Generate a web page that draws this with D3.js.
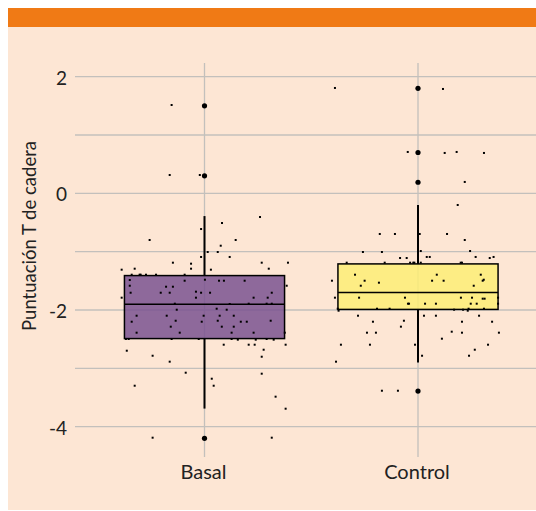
<!DOCTYPE html>
<html><head><meta charset="utf-8">
<script src="https://cdn.jsdelivr.net/npm/d3@7"></script>
<style>body{margin:0;background:#fff}svg{display:block}</style>
</head><body>
<script>
const categories = ["Basal", "Control"];
const yTicks = [-4, -2, 0, 2];
const yGrid = [-4, -3, -2, -1, 0, 1, 2];
// box stats: [lowerWhisker, q1, median, q3, upperWhisker]
const basalStats = [-3.69, -2.49, -1.90, -1.41, -0.39];
const controlStats = [-2.90, -1.99, -1.70, -1.21, -0.20];
const basalOutliers = [1.50, 0.30, -4.20];
const controlOutliers = [1.80, 0.70, 0.19, -3.39];
// jittered observations: [jitter (fraction of category step), value]
const basalPoints = [
[-0.154,1.514],[-0.163,0.314],[-0.022,0.314],[0.26,-0.406],[0.082,-0.509],[-0.016,-0.612],
[-0.257,-0.8],[0.146,-0.8],[0.076,-0.898],[0.015,-1.006],[0.062,-1.006],[-0.016,-1.091],[0.118,-1.091],
[-0.148,-1.189],[-0.063,-1.206],[0.268,-1.189],[0.391,-1.189],[-0.388,-1.309],[-0.327,-1.292],
[-0.063,-1.292],[0.03,-1.309],[0.301,-1.292],
[-0.341,-1.395],[-0.304,-1.395],[-0.299,-1.395],[-0.274,-1.395],[-0.227,-1.395],[-0.093,-1.395],
[-0.35,-1.486],[-0.093,-1.498],[0.002,-1.481],[0.068,-1.498],[0.091,-1.498],[0.188,-1.498],
[-0.35,-1.584],[-0.18,-1.601],[-0.148,-1.601],[0.385,-1.584],
[-0.346,-1.704],[-0.205,-1.704],[-0.163,-1.704],[-0.04,-1.686],[-0.016,-1.704],[0.026,-1.704],[0.315,-1.704],
[-0.388,-1.789],[-0.04,-1.789],[0.23,-1.789],[0.296,-1.789],
[-0.139,-1.892],[0.118,-1.897],[0.207,-1.892],[0.291,-1.892],[0.315,-1.892],
[-0.13,-1.995],[0.057,-1.978],[0.104,-1.995],
[-0.318,-2.098],[-0.177,-2.098],[-0.004,-2.098],[0.071,-2.098],[0.137,-2.098],
[-0.341,-2.201],[-0.135,-2.184],[-0.013,-2.201],[0.062,-2.184],[0.17,-2.201],[0.198,-2.201],[0.31,-2.184],
[-0.158,-2.286],[0.081,-2.286],[0.137,-2.286],
[-0.318,-2.389],[-0.116,-2.389],[0.127,-2.389],[0.23,-2.389],[0.376,-2.389],
[-0.368,-2.497],[-0.355,-2.497],[-0.154,-2.497],[-0.027,-2.497],[0.127,-2.497],[0.156,-2.509],
[0.24,-2.509],[0.291,-2.497],[0.324,-2.509],
[0.09,-2.595],[0.207,-2.595],[0.235,-2.595],[0.38,-2.595],
[-0.364,-2.698],[0.277,-2.681],[-0.243,-2.784],[0.268,-2.801],[-0.163,-2.886],
[-0.088,-3.075],[0.268,-3.092],[0.034,-3.178],[-0.327,-3.298],[0.043,-3.298],
[0.333,-3.486],[0.38,-3.692],[-0.243,-4.189],[0.315,-4.189]
];
const controlPoints = [
[-0.389,1.806],[0.117,1.789],[-0.048,0.709],[0.125,0.692],[0.181,0.709],[0.309,0.692],
[0.219,0.195],[0.186,-0.2],
[-0.179,-0.697],[-0.108,-0.697],[0.008,-0.697],[0.136,-0.697],[0.219,-0.8],
[-0.258,-1.006],[-0.169,-1.006],[0.013,-0.989],[0.244,-0.989],
[-0.084,-1.109],[-0.053,-1.109],[0.041,-1.091],[0.055,-1.091],[0.27,-1.091],[0.336,-1.109],[0.354,-1.091],
[-0.334,-1.189],[-0.156,-1.189],[-0.037,-1.189],[-0.022,-1.189],[-0.017,-1.189],[0,-1.189],
[0.013,-1.189],[0.2,-1.189],[0.206,-1.189],
[-0.295,-1.395],[0.088,-1.395],[0.294,-1.395],
[-0.403,-1.498],[-0.25,-1.498],[-0.183,-1.532],[0.066,-1.498],[0.12,-1.498],[0.303,-1.498],[0.308,-1.481],
[-0.268,-1.584],[0.261,-1.584],
[-0.389,-1.789],[-0.276,-1.789],[-0.061,-1.789],[0.201,-1.789],[0.253,-1.789],[0.303,-1.806],[0.312,-1.806],[0.375,-1.789],
[-0.047,-1.892],[-0.042,-1.892],[0.033,-1.892],[0.084,-1.892],[0.247,-1.892],[0.275,-1.892],[0.375,-1.892],
[-0.376,-1.978],[-0.372,-2.012],[-0.192,-1.978],[-0.133,-1.978],[0.169,-1.995],[0.211,-1.995],
[0.233,-2.012],[0.237,-1.978],[0.309,-1.978],
[-0.281,-2.098],[0.028,-2.098],[0.084,-2.098],[0.286,-2.098],
[-0.211,-2.201],[-0.066,-2.184],[0.206,-2.201],[0.347,-2.201],
[-0.08,-2.286],[0.158,-2.372],[-0.239,-2.389],[-0.197,-2.389],[0.206,-2.389],[0.379,-2.389],
[0.112,-2.492],[-0.361,-2.595],[-0.225,-2.595],[-0.014,-2.595],[0.328,-2.595],
[0.266,-2.681],[0.019,-2.784],[0.239,-2.784],[-0.384,-2.886],
[-0.169,-3.384],[-0.094,-3.384]
];
const yLabel = "Puntuación T de cadera";

const groups = [
  {cat: categories[0], stats: basalStats, outliers: basalOutliers, points: basalPoints, fill: "#7a5290"},
  {cat: categories[1], stats: controlStats, outliers: controlOutliers, points: controlPoints, fill: "#fded76"}
];

const W = 536, H = 511;
const FONT = "Lato, 'Noto Sans', sans-serif";
const svg = d3.select("body").append("svg").attr("width", W).attr("height", H);

svg.append("rect").attr("x", 8).attr("y", 8).attr("width", W - 8).attr("height", 502).attr("fill", "#fde6d4");
svg.append("rect").attr("x", 8).attr("y", 8).attr("width", W - 8).attr("height", 19).attr("fill", "#f07a15");

const x = d3.scalePoint().domain(categories).range([76.4, 546.1]).padding(0.6);
const y = d3.scaleLinear().domain([-4.52, 2.234]).range([457, 63]);
const step = x.step();

const grid = svg.append("g");
grid.selectAll("line.h").data(yGrid).join("line")
  .attr("x1", 75).attr("x2", W).attr("y1", d => y(d)).attr("y2", d => y(d))
  .attr("stroke", "#c3c0bc").attr("stroke-width", 1.3);
grid.selectAll("line.v").data(categories).join("line")
  .attr("x1", d => x(d)).attr("x2", d => x(d)).attr("y1", y.range()[1]).attr("y2", y.range()[0])
  .attr("stroke", "#c3c0bc").attr("stroke-width", 1.3);

const yAxis = d3.axisLeft(y).tickValues(yTicks).tickSize(0).tickPadding(8)
  .tickFormat(d => d < 0 ? "-" + Math.abs(d) : String(d));
const ya = svg.append("g").attr("transform", "translate(75,1.5)").call(yAxis);
ya.select(".domain").remove();
ya.selectAll("text").attr("font-family", FONT).attr("font-size", 19).attr("fill", "#222");

const xAxis = d3.axisBottom(x).tickSize(0).tickPadding(0);
const xa = svg.append("g").attr("transform", "translate(-1.5,479)").call(xAxis);
xa.select(".domain").remove();
xa.selectAll("text").attr("font-family", FONT).attr("font-size", 20).attr("fill", "#222").attr("dy", 0);

svg.append("text").attr("transform", "translate(36,236) rotate(-90)")
  .attr("text-anchor", "middle").attr("font-family", FONT).attr("font-size", 18.5).attr("fill", "#222")
  .text(yLabel);

const bw = 0.75 * step;
groups.forEach(g => {
  const cx = x(g.cat);
  const [lw, q1, med, q3, uw] = g.stats;
  const G = svg.append("g");
  G.append("line").attr("x1", cx).attr("x2", cx).attr("y1", y(q3)).attr("y2", y(uw)).attr("stroke", "#000").attr("stroke-width", 2);
  G.append("line").attr("x1", cx).attr("x2", cx).attr("y1", y(q1)).attr("y2", y(lw)).attr("stroke", "#000").attr("stroke-width", 2);
  G.append("rect").attr("x", cx - bw / 2).attr("y", y(q3)).attr("width", bw).attr("height", y(q1) - y(q3))
    .attr("fill", g.fill).attr("fill-opacity", 0.85).attr("stroke", "#000").attr("stroke-width", 1.5);
  G.append("line").attr("x1", cx - bw / 2).attr("x2", cx + bw / 2).attr("y1", y(med)).attr("y2", y(med)).attr("stroke", "#000").attr("stroke-width", 1.5);
  G.selectAll("circle").data(g.outliers).join("circle")
    .attr("cx", cx).attr("cy", d => y(d)).attr("r", 2.6).attr("fill", "#000");
  G.selectAll("rect.pt").data(g.points).join("rect").attr("class", "pt")
    .attr("x", d => cx + d[0] * step - 1).attr("y", d => y(d[1]) - 1).attr("width", 2).attr("height", 2).attr("fill", "#000");
});
</script>
</body></html>
